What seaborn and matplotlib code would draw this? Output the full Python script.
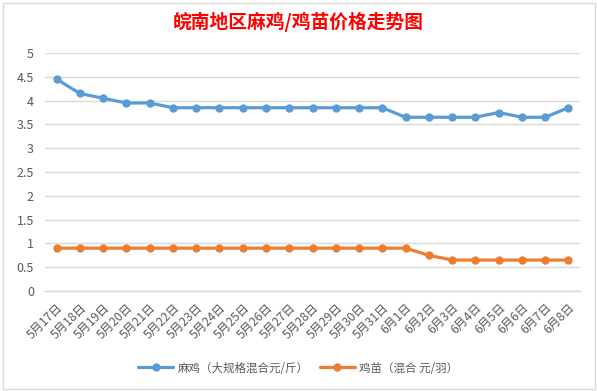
import matplotlib
matplotlib.use("Agg")
import matplotlib.pyplot as plt
import pandas as pd
import seaborn as sns
from matplotlib.patches import Rectangle

# dati
dates = ["5月17日", "5月18日", "5月19日", "5月20日", "5月21日", "5月22日", "5月23日",
         "5月24日", "5月25日", "5月26日", "5月27日", "5月28日", "5月29日", "5月30日",
         "5月31日", "6月1日", "6月2日", "6月3日", "6月4日", "6月5日", "6月6日",
         "6月7日", "6月8日"]
mj_price = [4.45, 4.15, 4.05, 3.95, 3.95, 3.85, 3.85, 3.85, 3.85, 3.85, 3.85, 3.85,
            3.85, 3.85, 3.85, 3.65, 3.65, 3.65, 3.65, 3.75, 3.65, 3.65, 3.85]
jm_price = [0.9, 0.9, 0.9, 0.9, 0.9, 0.9, 0.9, 0.9, 0.9, 0.9, 0.9, 0.9, 0.9, 0.9,
            0.9, 0.9, 0.75, 0.65, 0.65, 0.65, 0.65, 0.65, 0.65]
series_names = ["麻鸡（大规格混合元/斤）", "鸡苗（混合 元/羽）"]
y_ticks = [0, 0.5, 1, 1.5, 2, 2.5, 3, 3.5, 4, 4.5, 5]
title = "皖南地区麻鸡/鸡苗价格走势图"

sns.set_style("white")
plt.rcParams['font.family'] = ['Noto Sans CJK SC', 'DejaVu Sans']

df = pd.DataFrame({
    "idx": list(range(len(dates))) * 2,
    "value": mj_price + jm_price,
    "series": [series_names[0]] * len(dates) + [series_names[1]] * len(dates),
})

fig = plt.figure(figsize=(5.97, 3.91), dpi=100)
W, H = 597, 391
# bordo del grafico (stile Excel)
fig.patches.append(Rectangle((2.5 / W, 2.5 / H), 592 / W, 386 / H, transform=fig.transFigure,
                             fill=False, edgecolor="#d9d9d9", linewidth=1))

ax = fig.add_axes([45 / W, (H - 291) / H, 535 / W, 238 / H])
sns.lineplot(data=df, x="idx", y="value", hue="series", marker="o", markersize=6,
             markeredgewidth=0, linewidth=2.3,
             palette=["#5B9BD5", "#ED7D31"], ax=ax, legend=True)

ax.set_xlim(-0.5, len(dates) - 0.5)
ax.set_ylim(0, 5)
ax.set_yticks(y_ticks)
ax.set_yticklabels([f"{v:g}" for v in y_ticks])
ax.grid(axis="y", color="#d9d9d9", linewidth=1)
ax.set_axisbelow(True)
for s in ["top", "right", "left"]:
    ax.spines[s].set_visible(False)
ax.spines["bottom"].set_color("#d9d9d9")
ax.spines["bottom"].set_linewidth(1)

ax.set_xticks(range(len(dates)))
ax.set_xticklabels(dates, rotation=45, ha="right", va="top", rotation_mode="anchor")
ax.set_xticks([i - 0.5 for i in range(len(dates) + 1)], minor=True)
ax.tick_params(axis="x", which="major", length=0, pad=7, labelsize=8.7, labelcolor="#595959")
ax.tick_params(axis="x", which="minor", length=5, color="#d9d9d9", width=1, direction="out")
ax.tick_params(axis="y", length=0, labelsize=9, labelcolor="#595959", pad=8)
ax.set_xlabel("")
ax.set_ylabel("")

handles, labels = ax.get_legend_handles_labels()
ax.get_legend().remove()
fig.legend(handles, labels, loc="center", bbox_to_anchor=(0.5, (H - 368) / H), ncol=2,
           frameon=False, fontsize=8.3, labelcolor="#595959", handlelength=3,
           columnspacing=1.0, handletextpad=0.4)

fig.text(0.5, (H - 22) / H, title, color="red", fontsize=13.5, fontweight="bold",
         ha="center", va="center")

fig.savefig("out.png", dpi=100)
